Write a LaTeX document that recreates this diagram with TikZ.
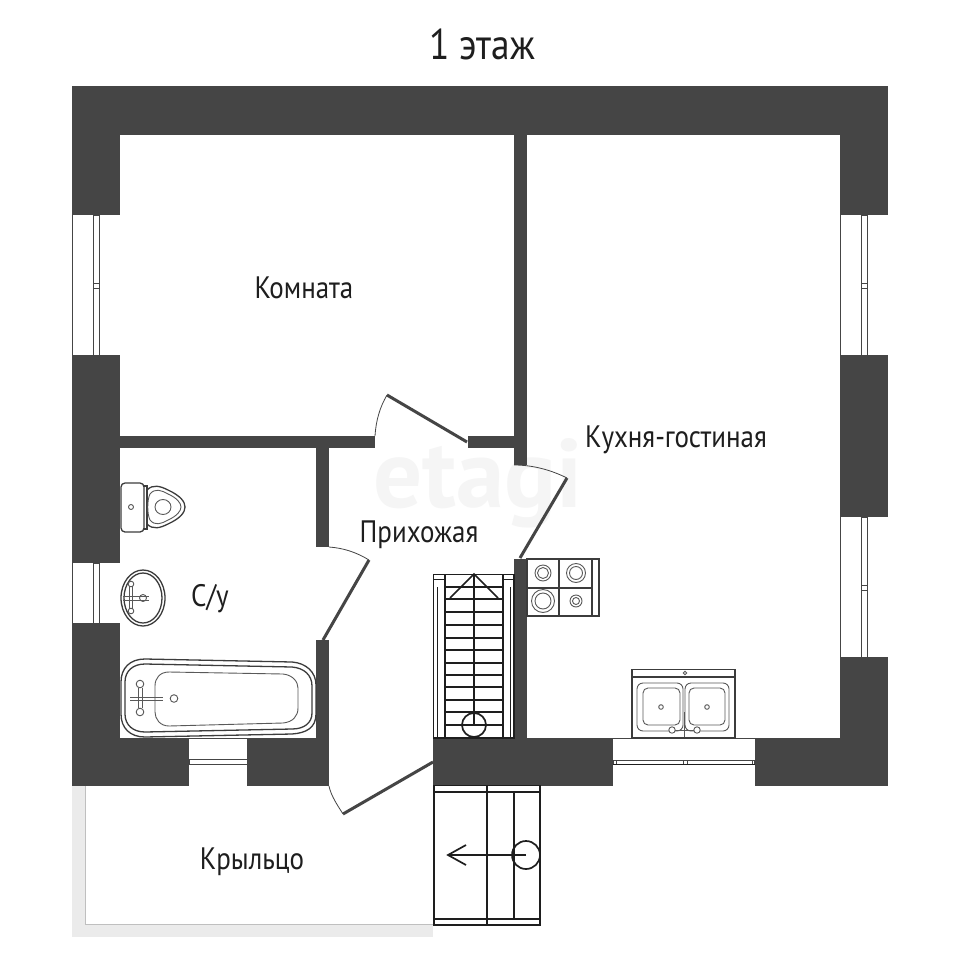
\documentclass[tikz,border=0pt]{standalone}
\usepackage{fontspec}
\setmainfont{PT Sans}
\definecolor{wallc}{HTML}{454545}
\definecolor{inkc}{HTML}{1E1E1E}
\definecolor{fixc}{HTML}{3C3C3C}
\definecolor{porchc}{HTML}{EBEBEB}
\definecolor{wmc}{HTML}{F5F5F5}
\tikzset{
  wall/.style={fill=wallc,draw=none},
  win/.style={fill=white,draw=none},
  winline/.style={draw=wallc,line width=.9pt},
  doorleaf/.style={draw=wallc,line width=3pt},
  doorarc/.style={draw=wallc,line width=.8pt},
  stairline/.style={draw=inkc,line width=1.7pt},
  fixture/.style={draw=fixc,line width=1.3pt},
  fixfine/.style={draw=fixc!85,line width=.9pt},
  label/.style={text=inkc,font=\fontsize{31}{34}\selectfont,inner sep=0pt,xscale=.87},
}
\begin{document}
\begin{tikzpicture}[x=1pt,y=-1pt]
\useasboundingbox (0,0) rectangle (960,960);
\fill[white] (0,0) rectangle (960,960);
% watermark
\node[text=wmc,font=\bfseries\fontsize{97}{97}\selectfont,inner sep=0pt] (wm) at (478,483) {etagi};
% porch
\fill[porchc] (72,786) rectangle (85,937);
\fill[porchc] (72,924) rectangle (433,937);
\draw[draw=black!25,line width=.7pt] (85,786) -- (85,924) -- (433,924);
% walls
\fill[wall] (72,86) rectangle (888,135);
\fill[wall] (72,86) rectangle (120,786);
\fill[wall] (840,86) rectangle (888,786);
\fill[wall] (72,738) rectangle (329,786);
\fill[wall] (433,738) rectangle (888,786);
\fill[wall] (514,135) rectangle (527,465);
\fill[wall] (514,559) rectangle (527,738);
\fill[wall] (120,436) rectangle (375,448);
\fill[wall] (468,436) rectangle (514,448);
\fill[wall] (316,448) rectangle (329,547);
\fill[wall] (316,640) rectangle (329,738);
% windows
\foreach \ya/\yb in {215/355,563/623}{
  \fill[win] (72.5,\ya) rectangle (119.5,\yb);
  \draw[winline] (93,\ya) rectangle (99,\yb);
}
\draw[winline] (93,283) -- (99,283) (93,288) -- (99,288);
\foreach \ya/\yb in {215/355,517/657}{
  \fill[win] (840.5,\ya) rectangle (887.5,\yb);
  \draw[winline] (861,\ya) rectangle (867,\yb);
}
\draw[winline] (861,283) -- (867,283) (861,288) -- (867,288);
\draw[winline] (861,585) -- (867,585) (861,590) -- (867,590);
\fill[win] (189,738.5) rectangle (247,785.5);
\draw[winline] (189,759) rectangle (247,764);
\fill[win] (613,738.5) rectangle (754.5,785.5);
\draw[winline] (613,760) rectangle (754.5,764.5);
\draw[winline] (683,760) -- (683,764.5) (687,760) -- (687,764.5) (616,760) -- (616,764.5) (752,760) -- (752,764.5);
\draw[draw=inkc,line width=1pt] (613,764.5) -- (754.5,764.5);
% doors
\draw[doorarc] (375,436) .. controls (376,420) and (380,407) .. (387,395);
\draw[doorleaf] (387,395) -- (467,442);
\draw[doorarc] (514,465) .. controls (533,465) and (551,470) .. (567,478);
\draw[doorleaf] (567,478) -- (520,558);
\draw[doorarc] (329,547) .. controls (343,548) and (356,552) .. (369,560);
\draw[doorleaf] (369,560) -- (323,640);
\draw[doorarc] (329,786) .. controls (331,796) and (338,806) .. (343,814);
\draw[doorleaf] (343,814) -- (433,762);
% inner stairs
\draw[stairline] (433.5,574.5) rectangle (514,738);
\draw[stairline] (445,574.5) -- (445,738) (503,574.5) -- (503,738);
\draw[draw=inkc,line width=1pt] (437,587) -- (437,738) (510,587) -- (510,738);
\draw[draw=inkc,line width=1pt] (433.5,579) -- (445,579) (503,579) -- (514,579);
\foreach \y in {587,599,612,625,638,650,663,675,687,700,712,725}{
  \draw[stairline] (445,\y) -- (503,\y);
}
\draw[stairline] (474,574) -- (474,725);
\draw[stairline] (450,598) -- (474,574) -- (498,598);
\draw[stairline] (474,725) circle (12);
% outer stairs
\draw[stairline] (434,785.5) rectangle (540,925);
\draw[stairline] (487,785.5) -- (487,925);
\draw[stairline] (514,792) -- (514,919);
\draw[stairline] (434,792) -- (540,792) (434,919) -- (540,919);
\draw[stairline] (526,855) -- (448,855);
\draw[stairline] (466,845) -- (448,855) -- (466,865);
\draw[stairline] (526,855) circle (14);
% stove
\draw[draw=fixc,line width=1.4pt] (527,559) rectangle (599,616);
\draw[draw=fixc,line width=1.4pt] (559,559) -- (559,616) (592,559) -- (592,616) (527,588) -- (592,588);
\foreach \x/\y/\ra/\rb in {543/573/8/5.5,576/573/9.5/6.5,543/601/11.5/8,576/601/6/3.5}{
  \draw[fixfine] (\x,\y) circle (\ra) (\x,\y) circle (\rb);
}
% kitchen sink
\draw[draw=fixc,line width=1.4pt] (632,669.5) rectangle (735,738);
\draw[draw=fixc,line width=1.4pt] (632,677) -- (735,677);
\draw[fixfine] (685,673) circle (1.8);
\draw[fixfine,rounded corners=6pt] (637,683) rectangle (683,731);
\draw[fixfine,rounded corners=6pt] (685,683) rectangle (729,731);
\draw[fixfine,rounded corners=5pt] (643,688) rectangle (680,725);
\draw[fixfine,rounded corners=5pt] (689,688) rectangle (725,725);
\draw[fixfine] (661,707) circle (2.3) (707,707) circle (2.3);
\draw[fixfine] (671,730) -- (697,730) (684,712) -- (684,737);
\draw[fixfine,fill=white] (672,730) circle (3.2) (697,730) circle (3.2);
% toilet
\draw[fixture,rounded corners=4pt] (121,483) rectangle (144,532);
\draw[fixture] (144,486) -- (147,486) -- (147,529) -- (144,529);
\draw[fixture] (147,490) .. controls (153,484) and (160,486) .. (168,490) .. controls (181,496) and (185,502) .. (185,507) .. controls (185,512) and (181,518) .. (168,524) .. controls (160,528) and (153,530) .. (147,524);
\draw[fixfine] (150,494) .. controls (155,488) and (161,490) .. (168,494) .. controls (177,498) and (181,503) .. (181,507) .. controls (181,511) and (177,516) .. (168,520) .. controls (161,524) and (155,526) .. (150,520) .. controls (147,514) and (147,500) .. (150,494);
\draw[fixfine] (163,507) ellipse (8 and 7.5);
\draw[fixfine] (131,507) circle (2.5);
% wash basin
\draw[fixture] (143,598) ellipse (22 and 28);
\draw[fixture] (143,598) ellipse (19 and 25);
\draw[fixfine] (131,584) circle (2.8) (131,611) circle (2.8);
\draw[fixfine] (129.5,586) -- (129.5,609) (132.5,586) -- (132.5,609);
\draw[fixfine] (123,596) -- (149,596) (123,600) -- (149,600);
\draw[fixfine] (143,598) circle (3.5);
% bath
\draw[fixture] (145,659) -- (292,662) .. controls (306,663) and (316,672) .. (316,685) -- (316,714) .. controls (316,728) and (306,733) .. (292,734) -- (145,737) .. controls (130,737) and (121,728) .. (121,714) -- (121,682) .. controls (121,668) and (130,659) .. (145,659) -- cycle;
\draw[fixture] (145,664) -- (292,667) .. controls (304,668) and (312,675) .. (312,686) -- (312,713) .. controls (312,723) and (304,729) .. (292,729) -- (145,732) .. controls (133,732) and (125,725) .. (125,714) -- (125,682) .. controls (125,671) and (133,664) .. (145,664) -- cycle;
\draw[fixfine] (169,672) -- (283,674) .. controls (293,675) and (298,682) .. (298,688) -- (298,708) .. controls (298,716) and (293,722) .. (283,723) -- (169,726) .. controls (160,726) and (155,719) .. (155,712) -- (155,686) .. controls (155,678) and (160,672) .. (169,672) -- cycle;
\draw[fixfine,fill=white] (140,684) circle (3.8) (140,712) circle (3.8);
\draw[fixfine] (138,688) -- (138,708) (142,688) -- (142,708);
\draw[fixfine] (130,697) -- (163,697) (130,700) -- (163,700);
\draw[fixfine] (174,698.5) circle (3.8);
% labels
\node[label,font=\fontsize{43}{46}\selectfont] (title) at (482,44) {1 этаж};
\node[label] (room) at (304,288) {Комната};
\node[label] (kitchen) at (676,440) {Кухня-гостиная};
\node[label] (hall) at (419,535) {Прихожая};
\node[label] (wc) at (210,599) {С/у};
\node[label] (porch) at (252,862) {Крыльцо};
\end{tikzpicture}
\end{document}
